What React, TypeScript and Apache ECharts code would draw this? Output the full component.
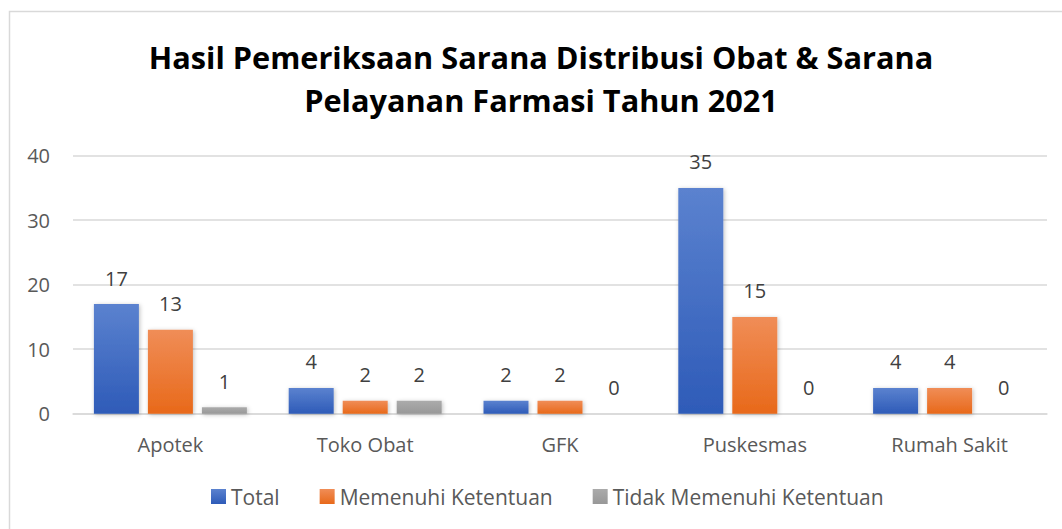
import React, { useEffect, useRef } from "react";
import * as echarts from "echarts";

const categories = ["Apotek", "Toko Obat", "GFK", "Puskesmas", "Rumah Sakit"];
const totalValues = [17, 4, 2, 35, 4];
const memenuhiValues = [13, 2, 2, 15, 4];
const tidakValues = [1, 2, 0, 0, 0];
const seriesNames = ["Total", "Memenuhi Ketentuan", "Tidak Memenuhi Ketentuan"];
const yTicks = { min: 0, max: 40, interval: 10 };

const FONT = "'Open Sans', 'Noto Sans', sans-serif";

function grad(top: string, bottom: string) {
  return new echarts.graphic.LinearGradient(0, 0, 0, 1, [
    { offset: 0, color: top },
    { offset: 1, color: bottom },
  ]);
}

export default function App() {
  const ref = useRef<HTMLDivElement>(null);
  useEffect(() => {
    if (!ref.current) return;
    const chart = echarts.init(ref.current, null, { renderer: "svg" });
    const label = {
      show: true,
      position: "top" as const,
      distance: 16,
      color: "#404040",
      fontSize: 20,
      fontFamily: FONT,
    };
    const common = {
      type: "bar" as const,
      barWidth: 45,
      barGap: "20%",
      label,
    };
    const shadow = {
      shadowColor: "rgba(0,0,0,0.25)",
      shadowBlur: 4,
      shadowOffsetX: 1,
      shadowOffsetY: 1,
    };
    chart.setOption({
      animation: false,
      backgroundColor: "#ffffff",
      title: {
        text: "Hasil Pemeriksaan Sarana Distribusi Obat & Sarana\nPelayanan Farmasi Tahun 2021",
        left: 536,
        textAlign: "center",
        top: 30,
        textStyle: {
          fontFamily: FONT,
          fontWeight: "bold",
          fontSize: 30.7,
          lineHeight: 43,
          color: "#000000",
        },
      },
      graphic: [
        {
          type: "rect",
          shape: { x: 9.5, y: 11.5, width: 1100, height: 600 },
          style: { fill: "none", stroke: "#d9d9d9", lineWidth: 1.5 },
          silent: true,
        },
      ],
      legend: {
        bottom: 17,
        left: 206,
        itemWidth: 15,
        itemHeight: 15,
        itemGap: 40,
        icon: "rect",
        textStyle: { fontFamily: FONT, fontSize: 21, color: "#595959" },
        data: seriesNames,
      },
      grid: { left: 73, right: 15, top: 155.7, bottom: 115.3, containLabel: false },
      xAxis: {
        type: "category",
        data: categories,
        axisLine: { lineStyle: { color: "#d9d9d9", width: 1.5 } },
        axisTick: { show: false },
        axisLabel: { fontFamily: FONT, fontSize: 20, color: "#595959", margin: 21 },
      },
      yAxis: {
        type: "value",
        min: yTicks.min,
        max: yTicks.max,
        interval: yTicks.interval,
        axisLine: { show: false },
        axisTick: { show: false },
        splitLine: { lineStyle: { color: "#d9d9d9", width: 1.5 } },
        axisLabel: { fontFamily: FONT, fontSize: 20, color: "#595959", margin: 23 },
      },
      series: [
        {
          ...common,
          name: seriesNames[0],
          data: totalValues,
          itemStyle: { color: grad("#5B82CF", "#2E5BB8"), ...shadow },
        },
        {
          ...common,
          name: seriesNames[1],
          data: memenuhiValues,
          itemStyle: { color: grad("#F08D57", "#E8691A"), ...shadow },
        },
        {
          ...common,
          name: seriesNames[2],
          data: tidakValues,
          itemStyle: { color: grad("#ABABAB", "#989898"), ...shadow },
        },
      ],
    });
    return () => chart.dispose();
  }, []);
  return (
    <div
      ref={ref}
      style={{ position: "absolute", left: 0, top: 0, width: 1062, height: 529 }}
    />
  );
}
